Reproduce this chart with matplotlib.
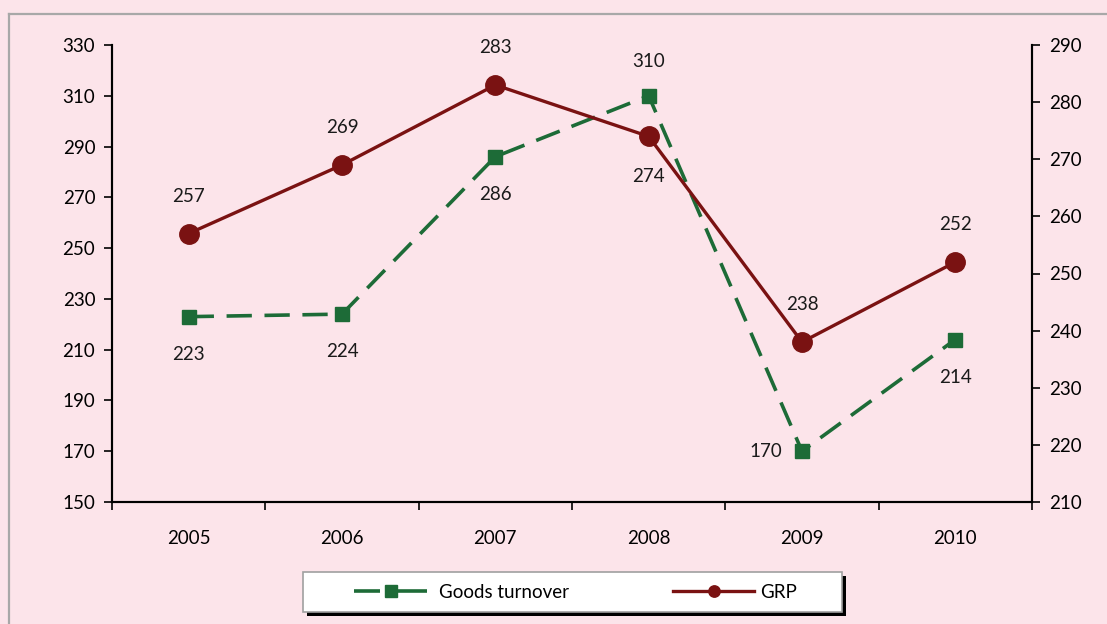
import matplotlib
matplotlib.use("Agg")
import matplotlib.pyplot as plt
from matplotlib.lines import Line2D
from matplotlib.patches import Rectangle

years = ["2005", "2006", "2007", "2008", "2009", "2010"]
goods_turnover = [223, 224, 286, 310, 170, 214]
grp = [257, 269, 283, 274, 238, 252]
left_ticks = [150, 170, 190, 210, 230, 250, 270, 290, 310, 330]
right_ticks = [210, 220, 230, 240, 250, 260, 270, 280, 290]

# label placement: (dx, dy) in points
goods_offsets = [(0, -27), (0, -27), (0, -27), (0, 25), (-26, 0), (0, -27)]
grp_offsets = [(0, 27), (0, 27), (0, 27), (0, -29), (0, 27), (0, 27)]

BG = "#FCE4EA"
GREEN = "#1D6B37"
RED = "#7A1212"
FONT = ["Lato", "DejaVu Sans"]
plt.rcParams['font.family'] = FONT
FS = 13.5
W, H = 1107, 624

fig = plt.figure(figsize=(W/100, H/100), dpi=100, facecolor=BG)
ax = fig.add_axes([112/W, 1-502/H, (1032-112)/W, (502-45)/H])
ax.set_facecolor(BG)
ax2 = ax.twinx()

x = list(range(len(years)))

ax.plot(x, goods_turnover, color=GREEN, lw=2.6, dashes=(7, 3.5),
        marker='s', markersize=10.5, markerfacecolor=GREEN, markeredgecolor=GREEN,
        label="Goods turnover", zorder=3)
ax2.plot(x, grp, color=RED, lw=2.4, marker='o', markersize=14,
         markerfacecolor=RED, markeredgecolor=RED, label="GRP", zorder=3)

for xi, v, off in zip(x, goods_turnover, goods_offsets):
    ax.annotate(str(v), (xi, v), xytext=off, textcoords='offset points',
                ha='center', va='center', fontsize=FS, color='#1a1a1a')
for xi, v, off in zip(x, grp, grp_offsets):
    ax2.annotate(str(v), (xi, v), xytext=off, textcoords='offset points',
                 ha='center', va='center', fontsize=FS, color='#1a1a1a')

ax.set_xlim(-0.5, len(years) - 0.5)
ax.set_ylim(150, 330)
ax2.set_ylim(210, 290)
ax.set_yticks(left_ticks)
ax2.set_yticks(right_ticks)

ax.set_xticks(x)
ax.set_xticklabels(years, fontsize=FS)
ax.set_xticks([i - 0.5 for i in range(len(years) + 1)], minor=True)
ax.tick_params(axis='x', which='major', length=0, pad=20)
ax.tick_params(axis='x', which='minor', length=6, width=1.2, direction='out')
ax.tick_params(axis='y', labelsize=FS, length=6, width=1.2, direction='out', pad=6)
ax2.tick_params(axis='y', labelsize=FS, length=6, width=1.2, direction='out', pad=6)

for a in (ax, ax2):
    a.spines['top'].set_visible(False)
    for s in ('left', 'right', 'bottom'):
        a.spines[s].set_linewidth(1.5)
        a.spines[s].set_color('black')

# outer chart border (cut off at right/bottom)
fig.add_artist(Line2D([9/W, 1.0], [1-14/H, 1-14/H], transform=fig.transFigure,
                      color='#A8A8A8', lw=1.6))
fig.add_artist(Line2D([9/W, 9/W], [1-14/H, 0.0], transform=fig.transFigure,
                      color='#A8A8A8', lw=1.6))

# legend frame with black shadow
fig.add_artist(Rectangle((307/W, 1-616/H), 539/W, 40/H, transform=fig.transFigure,
                         facecolor='black', edgecolor='none', zorder=5))
fig.add_artist(Rectangle((303/W, 1-612/H), 539/W, 40/H, transform=fig.transFigure,
                         facecolor='white', edgecolor='#A0A0A0', lw=1.2, zorder=6))

fs_px = FS * 100 / 72
h1 = Line2D([], [], color=GREEN, lw=2.6, dashes=(7.2, 2.2, 14, 1), marker='s', markersize=8.6)
h2 = Line2D([], [], color=RED, lw=2.4, marker='o', markersize=8.2)
leg1 = fig.legend([h1], ["Goods turnover"], loc='center left',
                  bbox_to_anchor=(354/W, 1-592/H), bbox_transform=fig.transFigure,
                  frameon=False, fontsize=FS, handlelength=73/fs_px,
                  handletextpad=12/fs_px, borderpad=0, borderaxespad=0)
leg1.set_zorder(7)
leg2 = fig.legend([h2], ["GRP"], loc='center left',
                  bbox_to_anchor=(673/W, 1-592/H), bbox_transform=fig.transFigure,
                  frameon=False, fontsize=FS, handlelength=81/fs_px,
                  handletextpad=6/fs_px, borderpad=0, borderaxespad=0)
leg2.set_zorder(7)

fig.savefig("out.png", dpi=100, facecolor=BG)
